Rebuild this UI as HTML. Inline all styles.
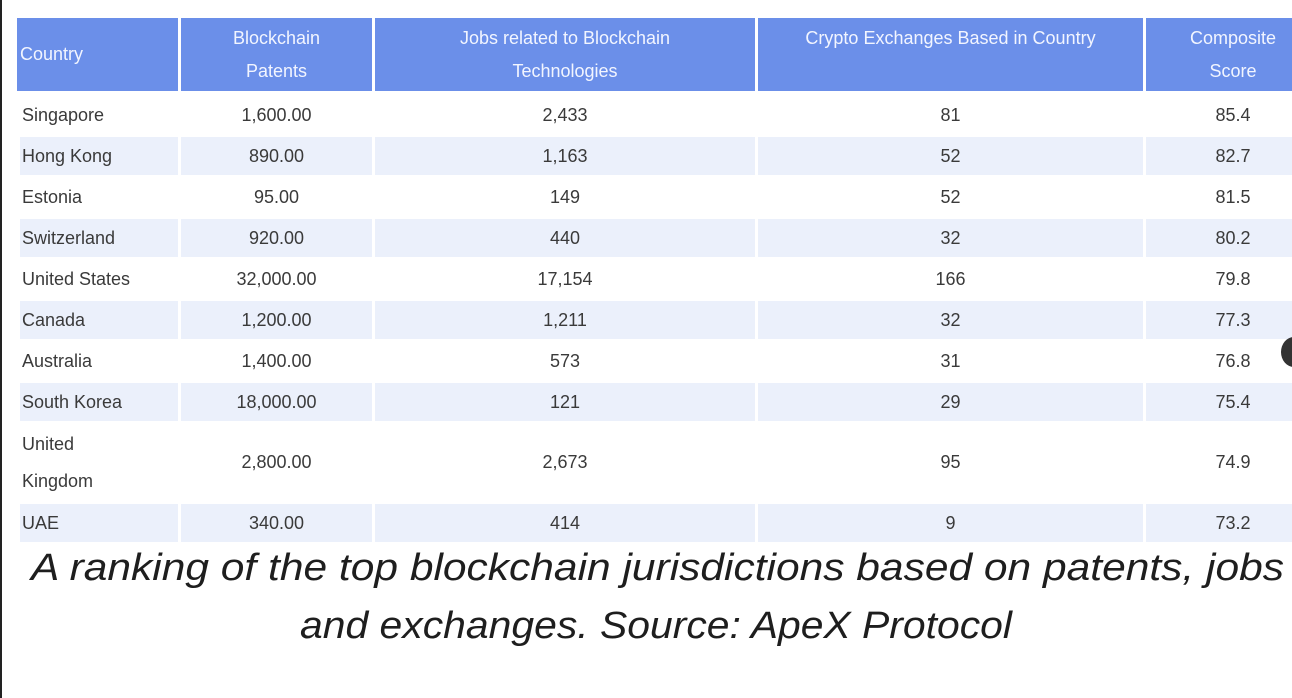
<!DOCTYPE html>
<html><head><meta charset="utf-8">
<style>
html,body{margin:0;padding:0;background:#fff;}
body{width:1292px;height:698px;overflow:hidden;position:relative;font-family:"Liberation Sans",Arial,sans-serif;}
.cell{position:absolute;box-sizing:border-box;font-size:18px;color:#3a3a3a;display:flex;align-items:center;justify-content:center;text-align:center;line-height:35px;}
.hdr{background:#6b8fe9;color:#f2f5ff;line-height:33px;}
.left{justify-content:flex-start;text-align:left;padding-left:3px;}
.stripe{background:#ebf0fb;}
</style></head>
<body>
<div style="position:absolute;left:0;top:0;width:2px;height:698px;background:#222;"></div>
<div id="tbl"></div>
<div style="position:absolute;left:1281px;top:337px;width:26px;height:30px;border-radius:50%;background:#333;"></div>
<svg width="1292" height="698" style="position:absolute;left:0;top:0;pointer-events:none;">
<text x="31" y="580" font-family="Liberation Sans, sans-serif" font-style="italic" font-size="38" fill="#1e1e1e" textLength="1253" lengthAdjust="spacingAndGlyphs">A ranking of the top blockchain jurisdictions based on patents, jobs</text>
<text x="300" y="638" font-family="Liberation Sans, sans-serif" font-style="italic" font-size="38" fill="#1e1e1e" textLength="712" lengthAdjust="spacingAndGlyphs">and exchanges. Source: ApeX Protocol</text>
</svg>
<script>
const headers = ["Country", "Blockchain<br>Patents", "Jobs related to Blockchain<br>Technologies", "Crypto Exchanges Based in Country<br>&nbsp;", "Composite<br>Score"];
const countries = ["Singapore","Hong Kong","Estonia","Switzerland","United States","Canada","Australia","South Korea","United<br>Kingdom","UAE"];
const patents = ["1,600.00","890.00","95.00","920.00","32,000.00","1,200.00","1,400.00","18,000.00","2,800.00","340.00"];
const jobs = ["2,433","1,163","149","440","17,154","1,211","573","121","2,673","414"];
const exchanges = ["81","52","52","32","166","32","31","29","95","9"];
const scores = ["85.4","82.7","81.5","80.2","79.8","77.3","76.8","75.4","74.9","73.2"];
const rowHeights = [1,1,1,1,1,1,1,1,2,1];

const colX = [[17,178],[181,372],[375,755],[758,1143],[1146,1320]];
const tbl = document.getElementById('tbl');
function mk(x,y,w,h,html,cls){
  const d=document.createElement('div');
  d.className='cell '+cls;
  d.style.left=x+'px';d.style.top=y+'px';d.style.width=w+'px';d.style.height=h+'px';
  d.innerHTML=html;
  tbl.appendChild(d);
  return d;
}
headers.forEach((h,i)=>{
  const c=colX[i];
  const d=mk(c[0],18,c[1]-c[0],73,h,'hdr'+(i===0?' left':''));
  
  
});
let y=96;
const rowPitch=41, rowH=38;
countries.forEach((ct,r)=>{
  const h = rowHeights[r]===2 ? 77 : rowH;
  const stripe = (r%2===1)?' stripe':'';
  const vals=[ct,patents[r],jobs[r],exchanges[r],scores[r]];
  vals.forEach((v,i)=>{
    const c=colX[i];
    const x0 = i===0?20:c[0];
    const d=mk(x0,y,c[1]-x0,h,v,(i===0?'left':'')+stripe);
    if(i===0){d.style.paddingLeft='2px';d.style.lineHeight='37px';}
    
    
  });
  y += rowHeights[r]===2 ? 80 : rowPitch;
});
</script>
</body></html>
